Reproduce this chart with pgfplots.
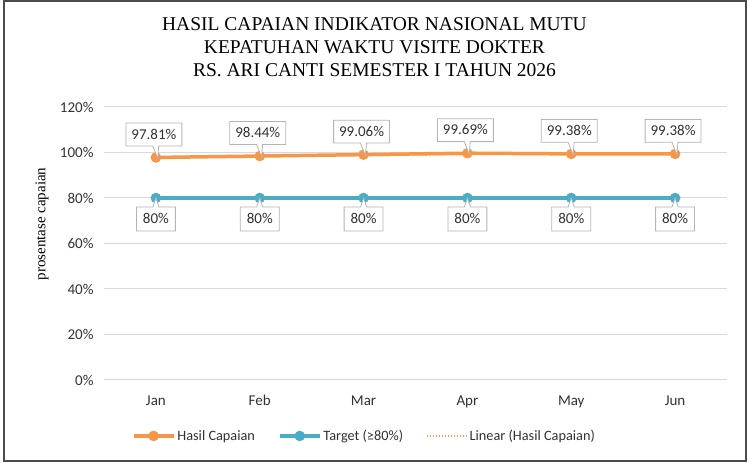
\documentclass[border=0pt]{standalone}
\usepackage{fontspec}
\setmainfont{Carlito}
\newfontfamily\serif{Liberation Serif}
\usepackage{pgfplots}
\pgfplotsset{compat=1.18}
\usetikzlibrary{shapes.callouts}
\definecolor{corange}{RGB}{247,150,70}
\definecolor{cblue}{RGB}{75,172,198}
\definecolor{cgrid}{RGB}{217,217,217}
\definecolor{cbox}{RGB}{180,180,180}
\definecolor{ctext}{RGB}{50,50,50}
\begin{document}
\begin{tikzpicture}[x=1bp,y=1bp]
\useasboundingbox (0,0) rectangle (749,463);
\draw[line width=2bp, black!70] (4,1.5) rectangle (746,461.5);
\node[font=\serif\fontsize{19.5bp}{23bp}\selectfont, anchor=base] at (374.5,432) {HASIL CAPAIAN INDIKATOR NASIONAL MUTU};
\node[font=\serif\fontsize{19.5bp}{23bp}\selectfont, anchor=base] at (374.5,409) {KEPATUHAN WAKTU VISITE DOKTER};
\node[font=\serif\fontsize{19.5bp}{23bp}\selectfont, anchor=base] at (374.5,386) {RS. ARI CANTI SEMESTER I TAHUN 2026};
\node[font=\serif\fontsize{15bp}{18bp}\selectfont, rotate=90] at (42,239) {prosentase capaian};
\begin{axis}[
  at={(104bp,83bp)}, anchor=south west,
  scale only axis, width=623bp, height=273bp,
  xmin=-0.5, xmax=5.5, ymin=0, ymax=120,
  ytick={0,20,40,60,80,100,120},
  xtick={0,1,2,3,4,5},
  xticklabels={Jan,Feb,Mar,Apr,May,Jun},
  ymajorgrids, grid style={cgrid, line width=1bp},
  axis line style={draw=none},
  major tick style={draw=none},
  /pgf/number format/assume math mode=true,
  yticklabel={\pgfmathprintnumber{\tick}\%},
  ticklabel style={font=\fontsize{15bp}{17bp}\selectfont, color=ctext},
  yticklabel style={xshift=-7bp},
  xticklabel style={yshift=-12bp},
  legend style={at={(0.418,-0.205)}, anchor=center, draw=none, fill=none,
    font=\fontsize{14.3bp}{16bp}\selectfont, text=ctext,
    /tikz/every even column/.append style={column sep=21bp}},
  legend columns=3,
  legend cell align=left,
  legend image code/.code={\draw[mark repeat=2,mark phase=2] plot coordinates {(0bp,0bp) (20bp,0bp) (40bp,0bp)};},
  clip=false,
]
\addplot[corange, line width=3.5bp, mark=*, mark size=5bp, mark options={solid, line width=0.5bp},
  nodes near coords={\pgfmathprintnumber[fixed,precision=2,fixed zerofill]{\pgfplotspointmeta}\%},
  every node near coord/.append style={anchor=center, xshift=-2bp, yshift=23bp,
    font=\fontsize{15bp}{17bp}\selectfont, text=ctext,
    rectangle callout, draw=cbox, line width=0.8bp, fill=white,
    callout relative pointer={(2bp,-12.5bp)}, callout pointer width=6bp,
    inner xsep=5.5bp, inner ysep=6.7bp, text height=9.5bp, text depth=0bp}]
  coordinates {(0,97.81) (1,98.44) (2,99.06) (3,99.69) (4,99.38) (5,99.38)};
\addlegendentry{Hasil Capaian}
\addplot[cblue, line width=3.5bp, mark=*, mark size=5bp, mark options={solid, line width=0.5bp},
  nodes near coords={\pgfmathprintnumber[fixed,precision=0]{\pgfplotspointmeta}\%},
  every node near coord/.append style={anchor=center, xshift=0bp, yshift=-21bp,
    font=\fontsize{15bp}{17bp}\selectfont, text=ctext,
    rectangle callout, draw=cbox, line width=0.8bp, fill=white,
    callout relative pointer={(0bp,9bp)}, callout pointer width=6bp,
    inner xsep=6.5bp, inner ysep=7.3bp, text height=9.5bp, text depth=0bp}]
  coordinates {(0,80) (1,80) (2,80) (3,80) (4,80) (5,80)};
\addlegendentry{Target (≥80\%)}
\addplot[corange, line width=1.5bp, dash pattern=on 1.5bp off 1.5bp, no marks]
  coordinates {(0,98.15) (5,99.77)};
\addlegendentry{Linear (Hasil Capaian)}
\end{axis}
\end{tikzpicture}
\end{document}
